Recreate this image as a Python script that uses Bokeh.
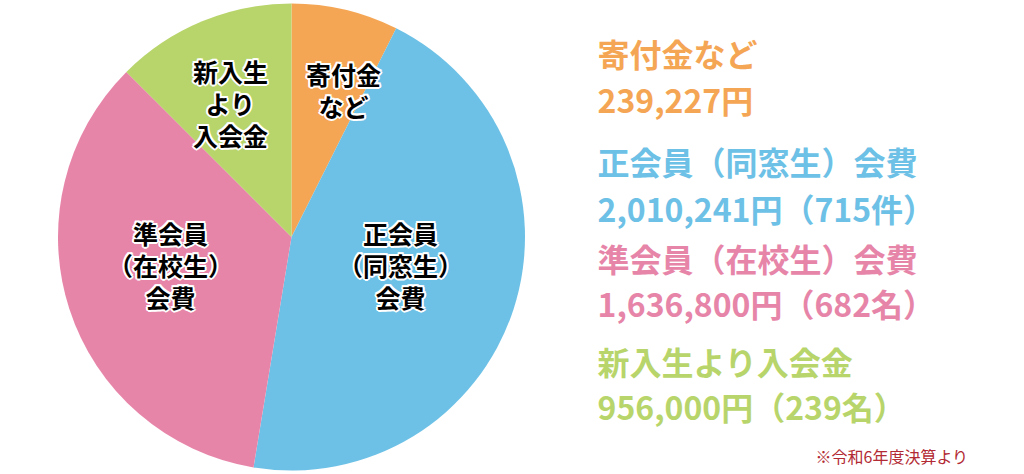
from bokeh.plotting import figure
from bokeh.models import Range1d, ColumnDataSource
from bokeh.core.properties import value
from bokeh.embed import file_html
from bokeh.resources import INLINE
import math

# ---- data ----
categories = ["寄付金など", "正会員（同窓生）会費", "準会員（在校生）会費", "新入生より入会金"]
amount_labels = ["239,227円", "2,010,241円（715件）", "1,636,800円（682名）", "956,000円（239名）"]
# slice shares (%) as drawn in the reference picture
slice_shares = [7.4, 45.2, 34.9, 12.5]
pie_labels = [["寄付金", "など"], ["正会員", "（同窓生）", "会費"],
              ["準会員", "（在校生）", "会費"], ["新入生", "より", "入会金"]]
colors = ["#F5A654", "#6DC1E6", "#E785A9", "#B8D56B"]
text_colors = ["#F5A654", "#6DC1E6", "#E785A9", "#B8D56B"]
footnote = "※令和6年度決算より"

W, H = 1024, 474
p = figure(width=W, height=H, output_backend="svg", toolbar_location=None,
           x_range=Range1d(0, W), y_range=Range1d(0, H), min_border=0)
p.axis.visible = False
p.grid.visible = False
p.outline_line_color = None
p.background_fill_color = "white"

def sy(y):  # screen y -> data y
    return H - y
def sx(x):
    return x

cx, cy, r = sx(291), sy(236.5), 233.5
total = sum(slice_shares)
starts, ends = [], []
cum = 0.0
for s in slice_shares:
    starts.append(math.pi / 2 - 2 * math.pi * cum / total)
    cum += s
    ends.append(math.pi / 2 - 2 * math.pi * cum / total)
src = ColumnDataSource(dict(x=[cx] * 4, y=[cy] * 4, start=starts, end=ends, color=colors))
p.wedge(x="x", y="y", radius=r, start_angle="start", end_angle="end", direction="clock",
        fill_color="color", line_color=None, source=src)

font = value("Noto Sans CJK JP")

# pie labels (layout positions in screen px)
label_pos = [(343, 73), (400, 232), (170, 232), (230, 70)]
lx, ly, lt = [], [], []
for (px, py), lines in zip(label_pos, pie_labels):
    for i, t in enumerate(lines):
        lx.append(sx(px)); ly.append(sy(py + 32 * i)); lt.append(t)

# white halo underneath
for dx, dy in [(-2, 0), (2, 0), (0, -2), (0, 2), (-1.5, -1.5), (1.5, 1.5), (-1.5, 1.5), (1.5, -1.5)]:
    p.text(x=[v + dx for v in lx], y=[v + dy for v in ly], text=lt, text_font=font,
           text_font_size="25px", text_color="white", text_font_style="bold",
           text_align="center", text_baseline="middle")
p.text(x=lx, y=ly, text=lt, text_font=font, text_font_size="25px", text_color="black",
       text_font_style="bold", text_align="center", text_baseline="middle")

# right side legend text
rows = [(52, 98), (160, 207), (257, 302), (360, 405)]
for i, (y1, y2) in enumerate(rows):
    p.text(x=[sx(597), sx(597)], y=[sy(y1), sy(y2)], text=[categories[i], amount_labels[i]],
           text_font=font, text_font_size="32px", text_font_style="bold",
           text_color=text_colors[i], text_align="left", text_baseline="middle")

p.text(x=[sx(815)], y=[sy(455)], text=[footnote], text_font=font, text_font_size="16px",
       text_color="#B22A33", text_align="left", text_baseline="middle")

open("out.html", "w").write(file_html(p, INLINE))
